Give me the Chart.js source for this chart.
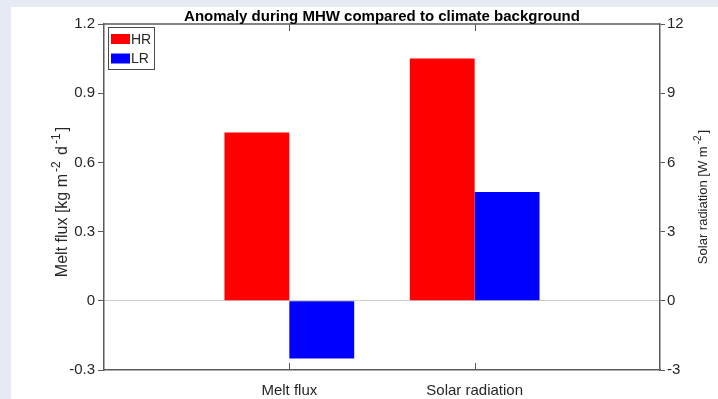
<!DOCTYPE html>
<html>
<head>
<meta charset="utf-8">
<script src="https://cdn.jsdelivr.net/npm/chart.js@4.4.1/dist/chart.umd.min.js"></script>
<style>
    body { margin: 0; background: #e6ebf3; }
    canvas { display: block; }
</style>
</head>
<body>
<canvas id="myChart" width="718" height="399"></canvas>
<script>
// values
const categories = ['Melt flux', 'Solar radiation'];
const seriesNames = ['HR', 'LR'];
const seriesColors = ['#ff0000', '#0000ff'];
// melt flux in kg m-2 d-1 (left axis), solar radiation in W m-2 (right axis)
const hrValues = [0.73, 10.5];
const lrValues = [-0.25, 4.72];
const axisIds = ['y', 'y2'];
const leftTicks = [-0.3, 0, 0.3, 0.6, 0.9, 1.2];
const rightTicks = [-3, 0, 3, 6, 9, 12];

const chartTitle = 'Anomaly during MHW compared to climate background';
const leftTitle = [{ t: 'Melt flux [kg m' }, { t: '-2', sup: true }, { t: ' d' }, { t: '-1', sup: true }, { t: ']' }];
const rightTitle = [{ t: 'Solar radiation [W m' }, { t: '-2', sup: true }, { t: ']' }];

const FONT = '"Liberation Sans", Arial, Helvetica, sans-serif';
const TEXT = '#262626';
const AXIS = '#5a5a5a';

Chart.defaults.font.family = FONT;
Chart.defaults.font.size = 15;
Chart.defaults.color = TEXT;

// empty slots on both ends so the two groups sit at 1/3 and 2/3 of the width
const labels = ['', ...categories, ''];

const datasets = [];
[hrValues, lrValues].forEach((values, s) => {
    values.forEach((v, i) => {
        datasets.push({
            label: seriesNames[s],
            data: labels.map((_, k) => (k === i + 1 ? v : null)),
            backgroundColor: seriesColors[s],
            borderWidth: 0,
            yAxisID: axisIds[i],
            skipNull: true,
            categoryPercentage: 0.7,
            barPercentage: 1.0
        });
    });
});

// rotated axis title with TeX-like superscripts
const drawRich = (ctx, parts, x, y, size, supSize) => {
    const gap = 2;
    let total = 0;
    parts.forEach(p => {
        ctx.font = (p.sup ? supSize : size) + 'px ' + FONT;
        p.w = ctx.measureText(p.t).width + (p.sup ? gap * 2 : 0);
        total += p.w;
    });
    ctx.save();
    ctx.translate(x, y);
    ctx.rotate(-Math.PI / 2);
    ctx.fillStyle = TEXT;
    ctx.textBaseline = 'alphabetic';
    ctx.textAlign = 'left';
    let cx = -total / 2;
    parts.forEach(p => {
        ctx.font = (p.sup ? supSize : size) + 'px ' + FONT;
        if (p.sup) {
            ctx.fillText(p.t, cx + gap, -size * 0.45);
        } else {
            ctx.fillText(p.t, cx, 0);
        }
        cx += p.w;
    });
    ctx.restore();
};

const decorPlugin = {
    id: 'decor',
    beforeDraw(chart) {
        const ctx = chart.ctx;
        ctx.save();
        ctx.fillStyle = '#e6ebf3';
        ctx.fillRect(0, 0, chart.width, chart.height);
        ctx.fillStyle = '#ffffff';
        ctx.fillRect(11, 7, chart.width - 11, chart.height - 7);
        ctx.restore();
    },
    afterDatasetsDraw(chart) {
        const ctx = chart.ctx;
        const area = chart.chartArea;
        const xScale = chart.scales.x;
        ctx.save();
        // box top edge
        ctx.strokeStyle = AXIS;
        ctx.lineWidth = 1.5;
        ctx.beginPath();
        ctx.moveTo(area.left, area.top);
        ctx.lineTo(area.right, area.top);
        ctx.stroke();
        // inward category ticks, bottom and top
        ctx.lineWidth = 1;
        for (let i = 1; i <= categories.length; i++) {
            const px = Math.round(xScale.getPixelForTick(i)) + 0.5;
            ctx.beginPath();
            ctx.moveTo(px, area.bottom);
            ctx.lineTo(px, area.bottom - 7);
            ctx.moveTo(px, area.top);
            ctx.lineTo(px, area.top + 7);
            ctx.stroke();
        }

        // legend box
        const lx = 108, ly = 27, lw = 46, lh = 42;
        ctx.fillStyle = '#ffffff';
        ctx.fillRect(lx, ly, lw, lh);
        ctx.strokeStyle = '#4a4a4a';
        ctx.lineWidth = 1;
        ctx.strokeRect(lx + 0.5, ly + 0.5, lw, lh);
        ctx.font = '14px ' + FONT;
        ctx.textBaseline = 'middle';
        ctx.textAlign = 'left';
        seriesNames.forEach((name, s) => {
            const rowY = 39 + s * 19.5;
            ctx.fillStyle = seriesColors[s];
            ctx.fillRect(111, rowY - 5, 19, 10);
            ctx.fillStyle = TEXT;
            ctx.fillText(name, 131, rowY + 1);
        });

        // title
        ctx.font = 'bold 15px ' + FONT;
        ctx.textAlign = 'center';
        ctx.textBaseline = 'alphabetic';
        ctx.fillStyle = '#000000';
        ctx.fillText(chartTitle, (area.left + area.right) / 2, 21);
        ctx.restore();

        // axis titles
        drawRich(ctx, leftTitle, 67, 202, 16, 12);
        drawRich(ctx, rightTitle, 707, 197, 13, 10);
    }
};

const ctx = document.getElementById('myChart');

const anomalyChart = new Chart(ctx, {
    type: 'bar',
    data: {
        labels: labels,
        datasets: datasets
    },
    plugins: [decorPlugin],
    options: {
        responsive: false,
        animation: false,
        devicePixelRatio: 1,
        layout: {
            padding: { left: 11, top: 24, right: 0, bottom: 0 }
        },
        plugins: {
            legend: { display: false },
            tooltip: { enabled: false },
            title: { display: false }
        },
        scales: {
            x: {
                type: 'category',
                offset: false,
                grid: { display: false, drawTicks: false },
                border: { display: true, color: AXIS, width: 1.5 },
                ticks: { autoSkip: false, maxRotation: 0, padding: 12, color: TEXT },
                afterFit: (scale) => { scale.height = 29; }
            },
            y: {
                position: 'left',
                min: -0.3,
                max: 1.2,
                afterBuildTicks: (scale) => { scale.ticks = leftTicks.map(v => ({ value: v })); },
                afterFit: (scale) => { scale.width = 93; },
                ticks: { padding: 3, color: TEXT, callback: (v) => String(v) },
                grid: {
                    drawOnChartArea: true,
                    color: (c) => (c.tick && c.tick.value === 0 ? '#cccccc' : 'rgba(0,0,0,0)'),
                    tickColor: AXIS,
                    tickLength: 6,
                    lineWidth: 1
                },
                border: { display: true, color: AXIS, width: 1.5 }
            },
            y2: {
                position: 'right',
                min: -3,
                max: 12,
                afterBuildTicks: (scale) => { scale.ticks = rightTicks.map(v => ({ value: v })); },
                afterFit: (scale) => { scale.width = 58; },
                ticks: { padding: 2, color: TEXT, callback: (v) => String(v) },
                grid: {
                    drawOnChartArea: false,
                    tickColor: AXIS,
                    tickLength: 5
                },
                border: { display: true, color: AXIS, width: 1.5 }
            }
        }
    }
});
</script>
</body>
</html>
